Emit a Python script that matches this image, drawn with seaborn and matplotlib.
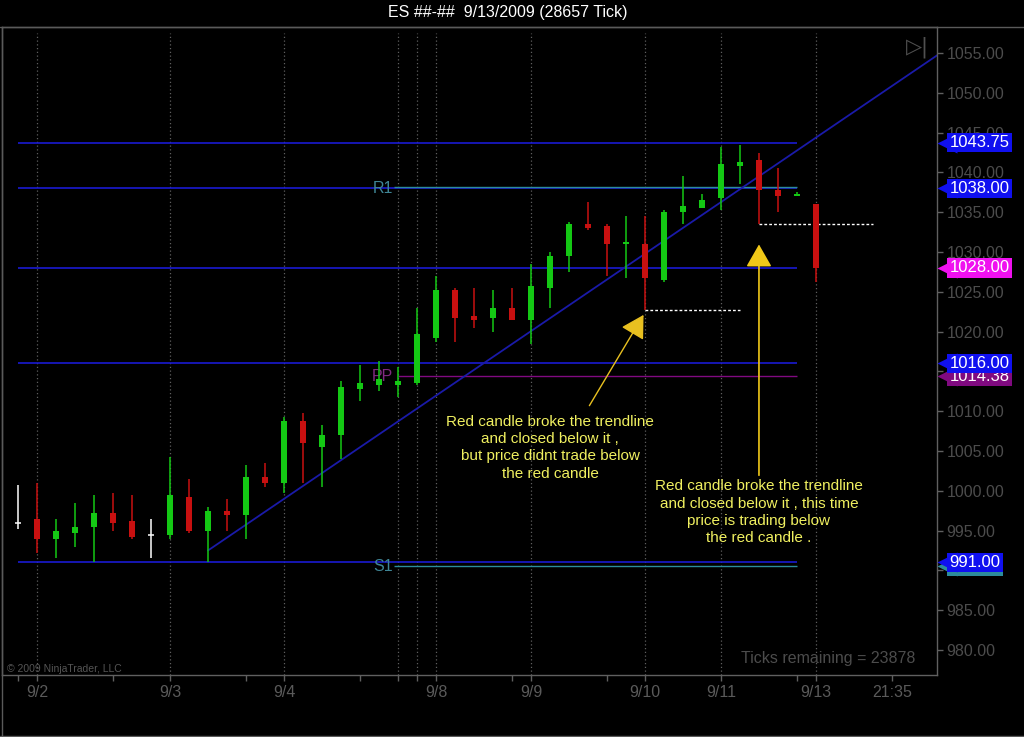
import matplotlib
matplotlib.use("Agg")
import matplotlib.pyplot as plt
import matplotlib.transforms as mtransforms
from matplotlib.lines import Line2D
import numpy as np
import seaborn as sns

# ES tick chart, one candle per bar index
opens = [996.00, 996.50, 994.00, 994.75, 995.50, 997.25, 996.25, 994.50, 994.50, 999.25,
         995.00, 997.50, 997.00, 1001.75, 1001.00, 1008.75, 1005.50, 1007.00, 1012.75, 1013.25,
         1013.25, 1013.50, 1019.25, 1025.25, 1022.00, 1021.75, 1023.00, 1021.50, 1025.50, 1029.50,
         1033.50, 1033.25, 1031.00, 1031.00, 1026.50, 1035.00, 1035.50, 1036.75, 1040.75, 1041.50,
         1037.75, 1037.00, 1036.00]
highs = [1000.75, 1001.00, 996.50, 998.50, 999.50, 999.75, 999.50, 996.50, 1004.25, 1001.50,
         998.00, 999.00, 1003.25, 1003.50, 1009.25, 1009.75, 1008.25, 1013.75, 1015.75, 1016.25,
         1015.50, 1023.00, 1027.00, 1025.50, 1025.50, 1025.25, 1025.50, 1028.50, 1030.00, 1033.75,
         1036.25, 1033.50, 1034.50, 1034.50, 1035.25, 1039.50, 1037.25, 1043.25, 1043.50, 1042.50,
         1040.50, 1037.50, 1036.00]
lows = [995.25, 992.25, 991.50, 993.00, 991.00, 995.00, 994.00, 991.50, 994.00, 994.75,
        991.00, 995.00, 994.00, 1000.50, 999.75, 1001.00, 1000.50, 1004.00, 1011.25, 1012.50,
        1011.75, 1013.25, 1018.75, 1018.75, 1020.50, 1020.00, 1021.50, 1018.50, 1023.00, 1027.50,
        1032.75, 1027.00, 1026.75, 1022.75, 1026.25, 1033.50, 1035.50, 1035.25, 1038.50, 1033.50,
        1035.00, 1037.00, 1026.25]
closes = [996.00, 994.00, 995.00, 995.50, 997.25, 996.00, 994.25, 994.50, 999.50, 995.00,
          997.50, 997.00, 1001.75, 1001.00, 1008.75, 1006.00, 1007.00, 1013.00, 1013.50, 1014.00,
          1013.75, 1019.75, 1025.25, 1021.75, 1021.50, 1023.00, 1021.50, 1025.75, 1029.50, 1033.50,
          1033.00, 1031.00, 1031.25, 1026.75, 1035.00, 1035.75, 1036.50, 1041.00, 1041.25, 1037.75,
          1037.00, 1037.25, 1028.00]

day_labels = ["9/2", "9/3", "9/4", "9/8", "9/9", "9/10", "9/11", "9/13", "21:35"]
day_pos = [1, 8, 14, 22, 27, 33, 37, 42, 46]
grid_pos = [1, 8, 14, 20, 21, 22, 27, 33, 37, 42]
minor_pos = [0, 5, 12, 18, 20, 21, 26, 31, 41, 46]
price_ticks = [980, 985, 990, 995, 1000, 1005, 1010, 1015, 1020, 1025,
               1030, 1035, 1040, 1045, 1050, 1055]

levels = [1043.75, 1038.00, 1028.00, 1016.00, 991.00]
pivot_names = ["R1", "PP", "S1"]
pivot_values = [1038.00, 1014.38, 991.00]

trend_x = [10, 48.4]
trend_y = [992.5, 1054.75]

dash_start = [33, 39]
dash_end = [38, 45]
dash_price = [1022.75, 1033.50]

# the teal S1 tag sits mostly hidden behind the blue 991.00 tag
tag_values = [1043.75, 1038.00, 1028.00, 1014.38, 1016.00, 990.50, 991.00]
tag_colors = ["#1010f0", "#1010f0", "#f010f0", "#800a80", "#1010f0", "#2c8c9c", "#1010f0"]

note1 = "Red candle broke the trendline\nand closed below it ,\nbut price didnt trade below\nthe red candle"
note2 = ("Red candle broke the trendline\nand closed below it , this time\n"
         "price is trading below\nthe red candle .")

sns.set_theme(style="dark", rc={"axes.facecolor": "black", "figure.facecolor": "black",
                                "axes.edgecolor": "#606060", "axes.grid": False})
plt.rcParams["font.family"] = ["Liberation Sans", "DejaVu Sans"]

fig = plt.figure(figsize=(10.24, 7.37), dpi=100)
ax = fig.add_axes([2 / 1024, 62 / 737, 935 / 1024, 648 / 737])
ax.set_xlim(-0.84, 48.37)
ax.set_ylim(976.86, 1058.27)

# dotted day separators
for gx in grid_pos:
    ax.axvline(gx, ymin=0, ymax=0.99, color="#5f5f5f", lw=0.9, ls=(0, (1, 2)), zorder=1)

# support / resistance lines
blue = "#1a1ad2"
ax.hlines(levels, 0, 41, color=blue, lw=1.2, zorder=2)
ax.hlines(pivot_values[0] + 0.15, 19.8, 41, color="#2c8c9c", lw=1.0, zorder=2)
ax.hlines(pivot_values[1], 20, 41, color="#800a80", lw=1.0, zorder=2)
ax.hlines(pivot_values[2] - 0.5, 19.8, 41, color="#2c8c9c", lw=1.0, zorder=2)
for name, val, col in zip(pivot_names, pivot_values, ["#3f8595", "#802a80", "#3f8595"]):
    yv = val if name != "S1" else val - 0.5
    ax.text(19.75, yv, name, color=col, fontsize=11.5, ha="right", va="center", zorder=3)

# trendline
sns.lineplot(x=trend_x, y=trend_y, ax=ax, color="#1a1aa8", lw=1.3, zorder=2)

# candles
x = np.arange(len(opens))
o = np.array(opens)
c = np.array(closes)
cols = np.where(c > o, "#14c814", np.where(c < o, "#c81010", "white"))
ax.vlines(x, lows, highs, colors=cols, lw=1.1, zorder=4)
body = np.maximum(np.abs(c - o), 0.25)
mask = c != o
ax.bar(x[mask], body[mask], bottom=np.minimum(o, c)[mask], width=0.28,
       color=cols[mask], lw=0, zorder=5)
ax.hlines(c[~mask], x[~mask] - 0.15, x[~mask] + 0.15, colors="white", lw=1.1, zorder=5)

# dashed low marks
ax.hlines(dash_price, dash_start, dash_end, colors="white", lw=1.0, ls=(0, (2, 1.5)), zorder=4)

# notes with arrows
yellow = "#f0f060"
ax.annotate("", xy=(33.0, 1022.4), xytext=(30.0, 1010.4),
            arrowprops=dict(arrowstyle="-|>,head_length=0.7,head_width=0.4",
                            color="#e8c020", lw=1.0, mutation_scale=20), zorder=6)
ax.annotate("", xy=(39.0, 1031.3), xytext=(39.0, 1001.6),
            arrowprops=dict(arrowstyle="-|>,head_length=0.7,head_width=0.4",
                            color="#f0c818", lw=1.2, mutation_scale=20), zorder=6)
ax.text(28.0, 1005.4, note1, color=yellow, fontsize=11, ha="center", va="center",
        linespacing=1.3, zorder=6)
ax.text(39.0, 997.3, note2, color=yellow, fontsize=11, ha="center", va="center",
        linespacing=1.3, zorder=6)

# axes styling
ax.yaxis.tick_right()
ax.set_yticks(price_ticks)
ax.set_yticklabels([f"{v:.2f}" for v in price_ticks])
ax.set_xticks(day_pos)
ax.set_xticklabels(day_labels)
ax.set_xticks(minor_pos, minor=True)
ax.tick_params(axis="y", colors="#606060", labelcolor="#4c4c4c", labelsize=11.5,
               length=4, width=1, pad=3, right=True, left=False)
ax.tick_params(axis="x", which="both", colors="#606060", labelcolor="#5a5a5a",
               labelsize=11.5, length=4, width=1, pad=3, bottom=True)
for sp in ax.spines.values():
    sp.set_color("#606060")
    sp.set_linewidth(1)

# price tags on the right axis
blend = mtransforms.blended_transform_factory(ax.transAxes, ax.transData)
for i, (val, col) in enumerate(zip(tag_values, tag_colors)):
    ax.plot([1.0105], [val], marker="<", ms=14, mec="none", mfc=col,
            transform=blend, clip_on=False, zorder=10 + 2 * i)
    ax.text(1.0135, val, f"{val:.2f}", transform=blend, color="white", fontsize=12,
            ha="left", va="center", clip_on=False, zorder=11 + 2 * i,
            bbox=dict(boxstyle="square,pad=0.14", fc=col, ec="none"))

# texts inside the panel
ax.text(0.979, 0.969, "\u25b7|", transform=ax.transAxes, color="#505050", fontsize=15,
        ha="center", va="center", family=["DejaVu Sans"])
ax.text(0.977, 0.026, "Ticks remaining = 23878", transform=ax.transAxes, color="#4c4c4c",
        fontsize=11.5, ha="right", va="center")
ax.text(0.005, 0.01, "\u00a9 2009 NinjaTrader, LLC", transform=ax.transAxes,
        color="#555555", fontsize=7.5, ha="left", va="center")

# panel frame and title
fig.add_artist(Line2D([0, 1], [710 / 737, 710 / 737], color="#5a5a5a", lw=1))
fig.add_artist(Line2D([1.5 / 1024, 1.5 / 1024], [0, 710 / 737], color="#5a5a5a", lw=1))
fig.add_artist(Line2D([0, 1], [1.5 / 737, 1.5 / 737], color="#5a5a5a", lw=1))
fig.text(0.496, 1 - 13 / 737, "ES ##-##  9/13/2009 (28657 Tick)", color="white",
         fontsize=11.5, ha="center", va="center")

fig.savefig("out.png", dpi=100, facecolor="black")
